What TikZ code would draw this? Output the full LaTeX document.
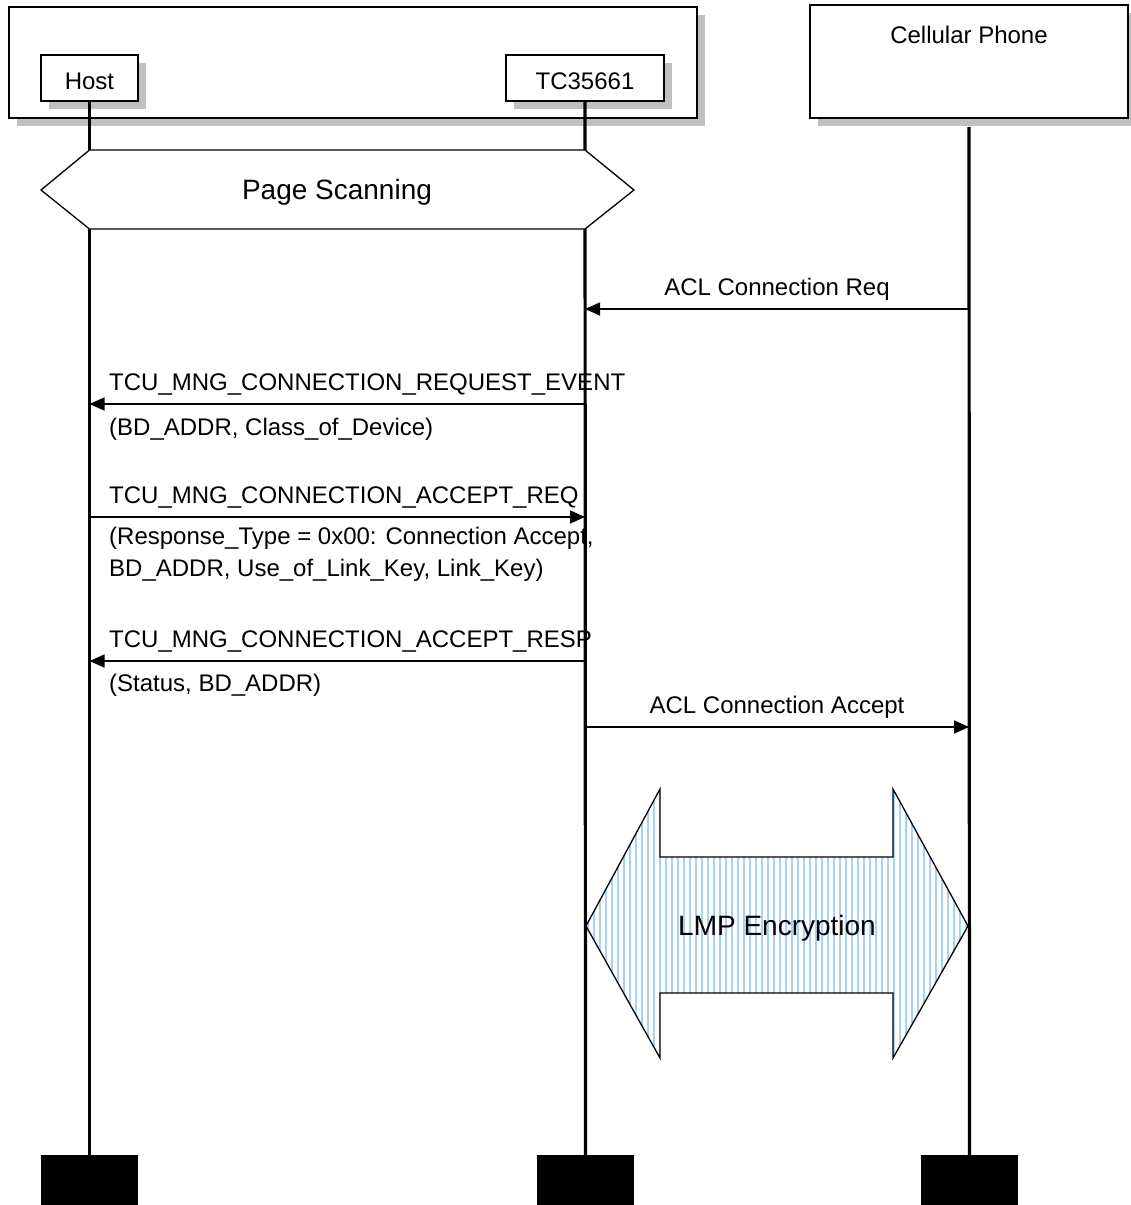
\documentclass[tikz,border=0pt]{standalone}
\usepackage{fontspec}
\setmainfont{Liberation Sans}
\usetikzlibrary{arrows.meta,shadows}
\definecolor{hatch}{HTML}{A9D1FA}
\definecolor{shadowgray}{HTML}{C0C0C0}
\begin{document}
\begin{tikzpicture}[x=1pt,y=-1pt,
  box/.style={draw=black,line width=1.5pt,fill=white,inner sep=0pt,
    drop shadow={shadow xshift=8pt,shadow yshift=-8pt,fill=shadowgray,opacity=1}},
  endbox/.style={fill=black,inner sep=0pt,minimum width=97pt,minimum height=50pt},
  life/.style={line width=3.2pt},
  msg/.style={line width=1.6pt,-{Triangle[length=15pt,width=13pt]}},
  txt/.style={inner sep=0pt,font=\fontsize{24}{28}\selectfont},
  bigtxt/.style={inner sep=0pt,font=\fontsize{28}{32}\selectfont}]
\useasboundingbox (0,0) rectangle (1131,1205);

% participant boxes
\node[box,minimum width=688pt,minimum height=111pt] (grp) at (353,62.5) {};
\node[box,minimum width=97pt,minimum height=46pt] (host) at (89.5,78) {};
\node[txt] (hosttxt) at ([yshift=-3pt]host.center) {Host};
\node[box,minimum width=158pt,minimum height=46pt] (tc) at (585,78) {};
\node[txt] (tctxt) at ([yshift=-3pt]tc.center) {TC35661};
\node[box,minimum width=318pt,minimum height=113pt] (cell) at (969,61.5) {};
\node[txt] (celltxt) at (969,35) {Cellular Phone};

% end boxes
\node[endbox] (hostend) at (89.5,1180) {};
\node[endbox] (tcend) at (585.5,1180) {};
\node[endbox] (cellend) at (969.5,1180) {};

% lifelines
\coordinate (cellstart) at ([yshift=-8pt]cell.south);
\draw[life] (host.south) -- (hostend.north);
\draw[life] (tc.south) -- (tcend.north);
\draw[life] (cellstart) -- (cellend.north);

% Page Scanning
\draw[line width=1.3pt,fill=white] (41,190) -- (89.5,150) -- (585,150) -- (634,190) -- (585,229) -- (89.5,229) -- cycle;
\node[bigtxt] (ps) at (337,192) {Page Scanning};

% y levels
\coordinate (y1) at (0,309);
\coordinate (y2) at (0,404);
\coordinate (y3) at (0,517);
\coordinate (y4) at (0,661);
\coordinate (y5) at (0,727);

% messages
\draw[msg] (cellstart |- y1) -- (tc |- y1);
\node[txt] (l1) at (777,289) {ACL Connection Req};

\draw[msg] (tc |- y2) -- (host |- y2);
\node[txt,anchor=west] (l2) at (109,384) {TCU\_MNG\_CONNECTION\_REQUEST\_EVENT};
\node[txt,anchor=west] (l2b) at (109,429) {(BD\_ADDR, Class\_of\_Device)};

\draw[msg] (host |- y3) -- (tc |- y3);
\node[txt,anchor=west] (l3) at (109,497) {TCU\_MNG\_CONNECTION\_ACCEPT\_REQ};
\node[txt,anchor=west] (l3b) at (109,538) {(Response\_Type = 0x00: Connection Accept,};
\node[txt,anchor=west] (l3c) at (109,570) {BD\_ADDR, Use\_of\_Link\_Key, Link\_Key)};

\draw[msg] (tc |- y4) -- (host |- y4);
\node[txt,anchor=west] (l4) at (109,641) {TCU\_MNG\_CONNECTION\_ACCEPT\_RESP};
\node[txt,anchor=west] (l4b) at (109,685) {(Status, BD\_ADDR)};

\draw[msg] (tc |- y5) -- (cellstart |- y5);
\node[txt] (l5) at (777,707) {ACL Connection Accept};

% LMP Encryption double arrow
\def\lmppath{(586,926) -- (660,789) -- (660,857) -- (893,857) -- (893,789) -- (968,926) -- (893,1058) -- (893,993) -- (660,993) -- (660,1058) -- cycle}
\fill[white] \lmppath;
\begin{scope}
  \clip \lmppath;
  \foreach \xx in {588,594,...,970} {
    \draw[hatch,line width=1.3pt] (\xx,780) -- (\xx,1070);
  }
\end{scope}
\draw[line width=1.3pt] \lmppath;
\node[bigtxt] (lmp) at (777,928) {LMP Encryption};
\end{tikzpicture}
\end{document}
